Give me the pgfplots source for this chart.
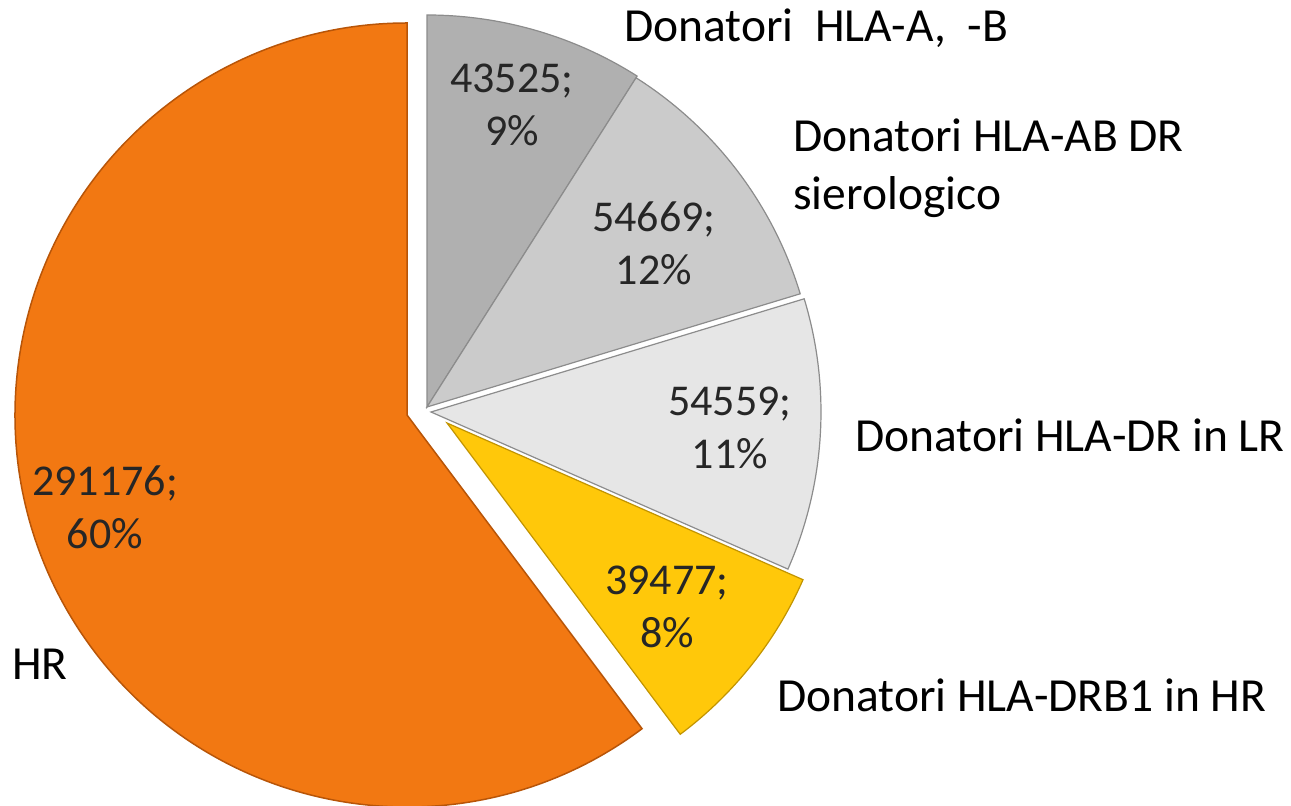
\documentclass[border=0pt]{standalone}
\usepackage{pgfplots}
\pgfplotsset{compat=1.18}
\usepackage{fontspec}
\setmainfont{Carlito}
\definecolor{gA}{HTML}{B0B0B0}
\definecolor{gB}{HTML}{CBCBCB}
\definecolor{gC}{HTML}{E6E6E6}
\definecolor{yel}{HTML}{FFC80A}
\definecolor{ora}{HTML}{F27812}
\definecolor{gEdge}{HTML}{8C8C8C}
\definecolor{yEdge}{HTML}{C29400}
\definecolor{oEdge}{HTML}{B85508}
% data values
\def\vA{43525}\def\vB{54669}\def\vC{54559}\def\vD{39477}\def\vE{291176}
\edef\tot{\fpeval{\vA+\vB+\vC+\vD+\vE}}
\edef\aA{\fpeval{90-360*\vA/\tot}}
\edef\aB{\fpeval{\aA-360*\vB/\tot}}
\edef\aC{\fpeval{\aB-360*\vC/\tot}}
\edef\aD{\fpeval{\aC-360*\vD/\tot}}
\edef\aE{\fpeval{\aD-360*\vE/\tot}}
\begin{document}
\begin{tikzpicture}
\clip (0,0) rectangle (1291pt,806pt);
\begin{axis}[
  scale only axis, width=1291pt, height=806pt,
  xmin=0, xmax=1291, ymin=0, ymax=806,
  hide axis, clip=true,
]
% orange slice
\addplot[fill=ora, draw=oEdge, line width=1.5pt] coordinates {(407,391)}
  -- ++(\aD:392pt) arc[start angle=\aD, end angle=\aE, radius=392pt] -- cycle;
% gray slices
\addplot[fill=gA, draw=gEdge, line width=1.2pt] coordinates {(427,399)}
  -- ++(90:392pt) arc[start angle=90, end angle=\aA, radius=392pt] -- cycle;
\addplot[fill=gB, draw=gEdge, line width=1.2pt] coordinates {(427,399)}
  -- ++(\aA:390pt) arc[start angle=\aA, end angle=\aB, radius=390pt] -- cycle;
\addplot[fill=gC, draw=gEdge, line width=1.2pt] coordinates {(431,394)}
  -- ++(\aB:390pt) arc[start angle=\aB, end angle=\aC, radius=390pt] -- cycle;
% yellow slice
\addplot[fill=yel, draw=yEdge, line width=1.2pt] coordinates {(447,383)}
  -- ++(\aC:389pt) arc[start angle=\aC, end angle=\aD, radius=389pt] -- cycle;
% data labels
\begin{scope}[every node/.style={align=center, font=\fontsize{44}{53}\selectfont, text=black!85}]
\node at (512,701) {43525;\\9\%};
\node at (654,563) {54669;\\12\%};
\node at (730,378) {54559;\\11\%};
\node at (667,199) {39477;\\8\%};
\node at (105,299) {291176;\\60\%};
\end{scope}
% category labels
\begin{scope}[every node/.style={font=\fontsize{47.5}{58}\selectfont, inner sep=0pt}]
\node[anchor=base west] at (624,764) {Donatori\ \ HLA-A,\ \ -B};
\node[anchor=base west] at (793,654) {Donatori HLA-AB DR};
\node[anchor=base west] at (793,596) {sierologico};
\node[anchor=base west] at (855,354) {Donatori HLA-DR in LR};
\node[anchor=base west] at (777,94) {Donatori HLA-DRB1 in HR};
\node[anchor=base east] at (68,126) {Donatori HLA-A, -B, -DRB1 in HR};
\end{scope}
\end{axis}
\end{tikzpicture}
\end{document}
